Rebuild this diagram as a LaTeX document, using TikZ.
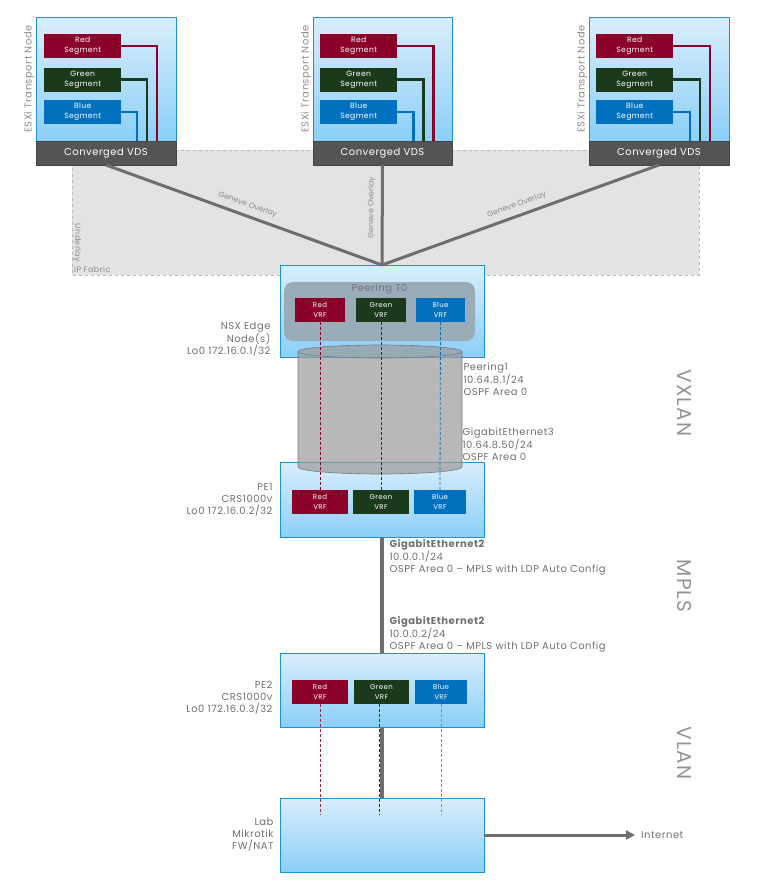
\documentclass[tikz,border=0pt]{standalone}
\usepackage{fontspec}
\setmainfont[LetterSpace=5]{Poppins}
\usepackage{tikz}
\usetikzlibrary{arrows.meta, positioning}
\usepackage{xcolor}

\definecolor{segred}{HTML}{8A0028}
\definecolor{seggreen}{HTML}{1B3A1B}
\definecolor{segblue}{HTML}{0070BF}
\definecolor{boxtop}{HTML}{D9EEFC}
\definecolor{boxbot}{HTML}{8CCFF8}
\definecolor{boxedge}{HTML}{1A94D6}
\definecolor{vdsgray}{HTML}{555556}
\definecolor{fabric}{HTML}{E3E3E3}
\definecolor{fabricedge}{HTML}{B9B9B9}
\definecolor{wire}{HTML}{6E6E70}
\definecolor{lbl}{HTML}{707070}
\definecolor{tzero}{HTML}{9BACB9}
\definecolor{cylfill}{HTML}{9A9A9A}
\definecolor{cyledge}{HTML}{7C7C7C}

\tikzset{
  bluebox/.style={draw=boxedge, line width=0.8pt, top color=boxtop, bottom color=boxbot, inner sep=0pt, outer sep=0pt},
  vdsbar/.style={draw=vdsgray!80!black, fill=vdsgray, text=white, font=\fontsize{10}{11}\selectfont, minimum width=140pt, minimum height=24pt, inner sep=0pt, outer sep=0pt},
  segbox/.style={text=white, font=\fontsize{7.6}{10}\selectfont, align=center, minimum width=77pt, minimum height=24pt, inner sep=0pt},
  vrfbox/.style={text=white, font=\fontsize{7}{9.5}\selectfont, align=center, minimum height=24pt, inner sep=0pt},
  segline/.style={line width=2.5pt},
  hostlbl/.style={text=lbl!80, font=\fontsize{10}{11}\selectfont, rotate=90},
  geneve/.style={draw=wire, line width=3pt},
  genlbl/.style={text=lbl!80, font=\fontsize{7.8}{8}\selectfont\addfontfeatures{LetterSpace=0}, sloped, above=2pt},
  sidelbl/.style={text=lbl, font=\fontsize{10}{12}\selectfont, align=right},
  linklbl/.style={text=lbl, font=\fontsize{10}{12}\selectfont, align=left, anchor=west},
  trunk/.style={draw=wire, line width=3.5pt},
  tunnel/.style={fill=cylfill, fill opacity=0.7, draw=cyledge, line width=0.6pt},
  vrfline/.style={line width=0.8pt, dash pattern=on 3pt off 2pt},
  layerlbl/.style={text=lbl!75, font=\fontsize{20}{21}\selectfont, rotate=-90}
}

\begin{document}
\begin{tikzpicture}[x=1pt, y=-1pt]
    \useasboundingbox (0,0) rectangle (773,881);

    \draw[fill=fabric, draw=fabricedge, dashed] (72,150) rectangle (699,275);
    \node[text=lbl!80, font=\fontsize{8}{9}\selectfont, rotate=-90] (ullbl) at (77,243) {Underlay};
    \node[text=lbl!80, font=\fontsize{8}{9}\selectfont, anchor=west, inner sep=1pt] (iplbl) at (73,269) {IP Fabric};

    \node[bluebox, minimum width=140pt, minimum height=124pt] (host1) at (106,79) {};
    \node[vdsbar, below=0pt of host1] (vds1) {Converged VDS};
    \node[segbox, fill=segred, anchor=north west] (seg1red) at ([xshift=8pt,yshift=-17pt]host1.north west) {Red\\Segment};
    \node[segbox, fill=seggreen, below=9pt of seg1red] (seg1green) {Green\\Segment};
    \node[segbox, fill=segblue, below=8pt of seg1green] (seg1blue) {Blue\\Segment};
    \draw[segline, segred] (seg1red.east) -| ([xshift=51pt]vds1.north);
    \draw[segline, seggreen] (seg1green.east) -| ([xshift=41pt]vds1.north);
    \draw[segline, segblue] (seg1blue.east) -| ([xshift=31pt]vds1.north);
    \node[hostlbl] (host1lbl) at ([xshift=-7pt]host1.west) {ESXi Transport Node};

    \node[bluebox, minimum width=139pt, minimum height=124pt] (host2) at (382.5,79) {};
    \node[vdsbar, minimum width=139pt, below=0pt of host2] (vds2) {Converged VDS};
    \node[segbox, fill=segred, anchor=north west] (seg2red) at ([xshift=7pt,yshift=-17pt]host2.north west) {Red\\Segment};
    \node[segbox, fill=seggreen, below=9pt of seg2red] (seg2green) {Green\\Segment};
    \node[segbox, fill=segblue, below=8pt of seg2green] (seg2blue) {Blue\\Segment};
    \draw[segline, segred] (seg2red.east) -| ([xshift=51pt]vds2.north);
    \draw[segline, seggreen] (seg2green.east) -| ([xshift=41pt]vds2.north);
    \draw[segline, segblue] (seg2blue.east) -| ([xshift=31pt]vds2.north);
    \node[hostlbl] (host2lbl) at ([xshift=-7pt]host2.west) {ESXi Transport Node};

    \node[bluebox, minimum width=140pt, minimum height=124pt] (host3) at (659,79) {};
    \node[vdsbar, below=0pt of host3] (vds3) {Converged VDS};
    \node[segbox, fill=segred, anchor=north west] (seg3red) at ([xshift=7pt,yshift=-17pt]host3.north west) {Red\\Segment};
    \node[segbox, fill=seggreen, below=9pt of seg3red] (seg3green) {Green\\Segment};
    \node[segbox, fill=segblue, below=8pt of seg3green] (seg3blue) {Blue\\Segment};
    \draw[segline, segred] (seg3red.east) -| ([xshift=51pt]vds3.north);
    \draw[segline, seggreen] (seg3green.east) -| ([xshift=41pt]vds3.north);
    \draw[segline, segblue] (seg3blue.east) -| ([xshift=31pt]vds3.north);
    \node[hostlbl] (host3lbl) at ([xshift=-7pt]host3.west) {ESXi Transport Node};

    \node[bluebox, minimum width=204pt, minimum height=92pt] (edge) at (382,311) {};
    \node[fill=tzero, rounded corners=9pt, minimum width=191pt, minimum height=59pt] (t0) at (379.5,311.5) {};
    \node[text=lbl!90!tzero, font=\fontsize{10}{10}\selectfont] (t0lbl) at ([yshift=-7pt]t0.north) {Peering T0};
    \node[vrfbox, fill=segred, minimum width=50pt] (t0red) at (320,310) {Red\\VRF};
    \node[vrfbox, fill=seggreen, minimum width=50pt] (t0green) at (381,310) {Green\\VRF};
    \node[vrfbox, fill=segblue, minimum width=49pt] (t0blue) at (440.5,310) {Blue\\VRF};

    \draw[geneve] (vds1.south) -- node[genlbl, pos=0.5] {Geneve Overlay} (edge.north);
    \draw[geneve] (vds2.south) -- node[genlbl, pos=0.43] {Geneve Overlay} (edge.north);
    \draw[geneve] (vds3.south) -- node[genlbl, pos=0.5] {Geneve Overlay} (edge.north);

    \node[bluebox, minimum width=204pt, minimum height=75pt] (pe1) at (382,499.5) {};
    \node[vrfbox, fill=segred, minimum width=56pt] (pe1red) at (320,502) {Red\\VRF};
    \node[vrfbox, fill=seggreen, minimum width=56pt] (pe1green) at (381,502) {Green\\VRF};
    \node[vrfbox, fill=segblue, minimum width=52pt] (pe1blue) at (440,502) {Blue\\VRF};

    \filldraw[tunnel] (298,351.5) -- (298,467) arc[start angle=180, end angle=360, x radius=82pt, y radius=7pt] -- (462,351.5) arc[start angle=0, end angle=180, x radius=82pt, y radius=6.5pt] -- cycle;
    \draw[cyledge, line width=0.6pt] (298,351.5) arc[start angle=180, end angle=360, x radius=82pt, y radius=6.5pt];

    \draw[vrfline, segred] (t0red.south) -- (pe1red.north);
    \draw[vrfline, seggreen] (t0green.south) -- (pe1green.north);
    \draw[vrfline, segblue] (t0blue.south) -- (pe1blue.north);

    \node[bluebox, minimum width=204pt, minimum height=74pt] (pe2) at (382,690) {};
    \node[vrfbox, fill=segred, minimum width=56pt] (pe2red) at (320,692) {Red\\VRF};
    \node[vrfbox, fill=seggreen, minimum width=55pt] (pe2green) at (381.5,692) {Green\\VRF};
    \node[vrfbox, fill=segblue, minimum width=52pt] (pe2blue) at (441,692) {Blue\\VRF};

    \node[bluebox, minimum width=204pt, minimum height=74pt] (mk) at (382,835) {};
    \coordinate (mktap) at (382,815);

    \draw[trunk] (pe1.south) -- (pe2.north);
    \draw[trunk] (pe2.south) -- (mk.north);

    \draw[vrfline, segred!85!white] (pe2red.south) -- (pe2red.south |- mktap);
    \draw[vrfline, seggreen] ([xshift=-2.5pt]pe2green.south) -- ([xshift=-2.5pt]pe2green.south |- mktap);
    \draw[vrfline, segblue!70!white] (pe2blue.south) -- (pe2blue.south |- mktap);

    \node[text=lbl, font=\fontsize{10}{12}\selectfont, anchor=west, inner sep=3pt] (inet) at (638,835) {Internet};
    \draw[trunk, line width=3pt, -{Triangle[length=9pt,width=9pt]}, shorten >=3pt] (mk.east) -- (inet.west);

    \node[sidelbl, anchor=north east] (edgelbl) at ([xshift=-6pt,yshift=-8pt]edge.west) {NSX Edge \\Node(s)\\Lo0 172.16.0.1/32};
    \node[sidelbl, left=4pt of pe1] (pe1lbl) {PE1\\CRS1000v\\Lo0 172.16.0.2/32};
    \node[sidelbl, anchor=east] (pe2lbl) at ([xshift=-4pt,yshift=-8pt]pe2.west) {PE2\\CRS1000v\\Lo0 172.16.0.3/32};
    \node[sidelbl, left=3pt of mk] (mklbl) {Lab\\Mikrotik\\FW/NAT};

    \node[linklbl] (peerlbl) at (460,379) {Peering1\\10.64.8.1/24\\OSPF Area 0};
    \node[linklbl] (gi3lbl) at (459,444) {GigabitEthernet3\\10.64.8.50/24\\OSPF Area 0};
    \node[linklbl] (gi2albl) at (386,557) {\textbf{GigabitEthernet2}\\10.0.0.1/24\\OSPF Area 0 -- MPLS with LDP Auto Config};
    \node[linklbl] (gi2blbl) at (386,634) {\textbf{GigabitEthernet2}\\10.0.0.2/24\\OSPF Area 0 -- MPLS with LDP Auto Config};

    \node[layerlbl] (vxlanlbl) at (684,403) {VXLAN};
    \node[layerlbl] (mplslbl) at (684,586) {MPLS};
    \node[layerlbl] (vlanlbl) at (684,753) {VLAN};
\end{tikzpicture}
\end{document}
